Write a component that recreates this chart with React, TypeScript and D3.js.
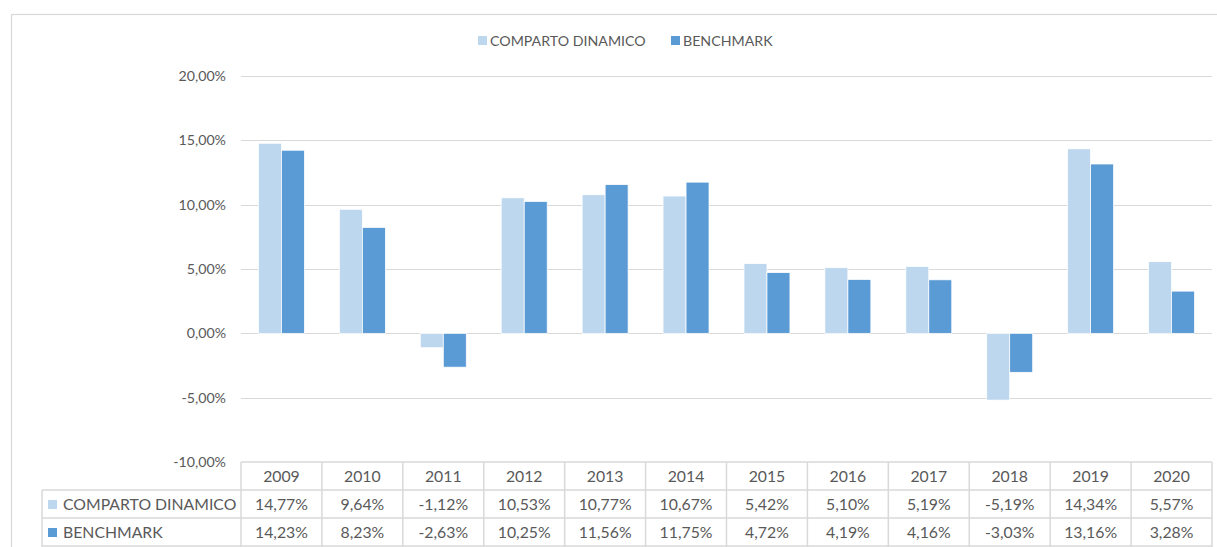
import React from "react";
import * as d3 from "d3";

const years = ["2009","2010","2011","2012","2013","2014","2015","2016","2017","2018","2019","2020"];
const comparto = [14.77, 9.64, -1.12, 10.53, 10.77, 10.67, 5.42, 5.10, 5.19, -5.19, 14.34, 5.57];
const benchmark = [14.23, 8.23, -2.63, 10.25, 11.56, 11.75, 4.72, 4.19, 4.16, -3.03, 13.16, 3.28];
const seriesNames = ["COMPARTO DINAMICO", "BENCHMARK"];
const yTicks = [20, 15, 10, 5, 0, -5, -10];

const colors = ["#BDD7EE", "#5B9BD5"];
const textColor = "#595959";
const gridColor = "#D9D9D9";
const font = "Lato, 'Open Sans', sans-serif";

const fmt = (v: number) => v.toFixed(2).replace(".", ",") + "%";

export default function App() {
  const W = 1217, H = 547;
  const x = d3.scaleBand<string>().domain(years).range([241, 1212]).padding(0);
  const sub = d3.scaleBand<number>().domain([0, 1]).range([0, x.bandwidth()]).paddingOuter(0.76).paddingInner(0);
  const y = d3.scaleLinear().domain([-10, 20]).range([462, 76]);
  const series = [comparto, benchmark];
  const rowTop = 462, rowH = 28;
  const tableLeft = 42;
  const tfs = 15.8;

  return (
    <svg width={W} height={H} style={{ position: "absolute", left: 0, top: 0, fontFamily: font }}>
      <rect x={0} y={0} width={W} height={H} fill="#fff" />
      <rect x={11.5} y={14.5} width={W + 10} height={H + 10} fill="none" stroke={gridColor} strokeWidth={1.2} />
      {/* legend */}
      {seriesNames.map((n, i) => {
        const lx = i === 0 ? 478 : 671;
        return (
          <g key={n}>
            <rect x={lx} y={36} width={9} height={9} fill={colors[i]} />
            <text x={lx + 12} y={46} fontSize={14.2} fill={textColor}>{n}</text>
          </g>
        );
      })}
      {/* grid */}
      {yTicks.map(t => (
        <g key={t}>
          {t !== -10 && (
            <line x1={241} x2={1212} y1={Math.round(y(t)) + 0.5} y2={Math.round(y(t)) + 0.5} stroke={gridColor} strokeWidth={1.2} />
          )}
          <text x={226} y={y(t) + 5} textAnchor="end" fontSize={14.2} fill={textColor}>{fmt(t)}</text>
        </g>
      ))}
      {/* bars */}
      {years.map((yr, j) => (
        <g key={yr}>
          {series.map((s, i) => {
            const v = s[j];
            const x0 = (x(yr) as number) + (sub(i) as number);
            return (
              <rect key={i} x={x0} width={sub.bandwidth()} y={Math.min(y(0), y(v))} height={Math.abs(y(v) - y(0))}
                fill={colors[i]} stroke="#fff" strokeWidth={0.75} />
            );
          })}
        </g>
      ))}
      {/* table */}
      <g>
        <line x1={241} x2={1212} y1={rowTop} y2={rowTop} stroke={gridColor} strokeWidth={1.5} />
        <line x1={tableLeft} x2={1212} y1={rowTop + rowH} y2={rowTop + rowH} stroke={gridColor} strokeWidth={1.5} />
        <line x1={tableLeft} x2={1212} y1={rowTop + 2 * rowH} y2={rowTop + 2 * rowH} stroke={gridColor} strokeWidth={1.5} />
        <line x1={tableLeft} x2={1212} y1={rowTop + 3 * rowH} y2={rowTop + 3 * rowH} stroke={gridColor} strokeWidth={1.5} />
        <line x1={tableLeft} x2={tableLeft} y1={rowTop + rowH} y2={H} stroke={gridColor} strokeWidth={1.5} />
        {years.map(yr => (
          <line key={yr} x1={x(yr) as number} x2={x(yr) as number} y1={rowTop} y2={H} stroke={gridColor} strokeWidth={1.5} />
        ))}
        <line x1={1212} x2={1212} y1={rowTop} y2={H} stroke={gridColor} strokeWidth={1.5} />
        {years.map(yr => (
          <text key={yr} x={(x(yr) as number) + x.bandwidth() / 2} y={rowTop + 20} textAnchor="middle" fontSize={tfs} fill={textColor}>{yr}</text>
        ))}
        {series.map((s, i) => (
          <g key={i}>
            <rect x={48} y={rowTop + rowH * (i + 1) + 10} width={9} height={9} fill={colors[i]} />
            <text x={63} y={rowTop + rowH * (i + 1) + 20} fontSize={tfs} fill={textColor}>{seriesNames[i]}</text>
            {s.map((v, j) => (
              <text key={j} x={(x(years[j]) as number) + x.bandwidth() / 2} y={rowTop + rowH * (i + 1) + 20} textAnchor="middle" fontSize={tfs} fill={textColor}>{fmt(v)}</text>
            ))}
          </g>
        ))}
      </g>
    </svg>
  );
}
